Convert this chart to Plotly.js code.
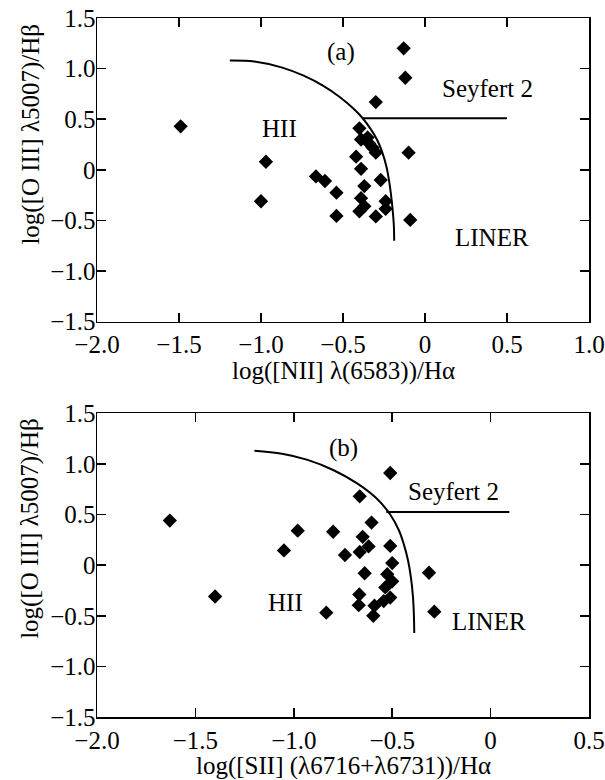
<!DOCTYPE html>
<html>
<head>
<meta charset="utf-8">
<script src="https://cdn.plot.ly/plotly-3.0.1.min.js"></script>
<style>html,body{margin:0;padding:0;background:#fff;}#chart{width:605px;height:780px;}</style>
</head>
<body>
<div id="chart"></div>
<script>
// Panel (a): log([NII]/Hα) vs log([OIII]/Hβ)
const niiX = [-0.13, -0.12, -0.30, -1.49, -0.40, -0.39, -0.35, -0.34, -0.32, -0.30, -0.10, -0.97, -0.42, -0.39,
              -0.665, -0.61, -0.54, -1.00, -0.27, -0.37, -0.39, -0.24, -0.37, -0.40, -0.24, -0.54, -0.30, -0.09];
const niiY = [1.20, 0.91, 0.67, 0.43, 0.41, 0.30, 0.32, 0.26, 0.22, 0.17, 0.17, 0.08, 0.13, 0.01,
              -0.065, -0.11, -0.225, -0.31, -0.10, -0.16, -0.28, -0.31, -0.36, -0.41, -0.385, -0.455, -0.46, -0.495];
const curveAX = [-1.19, -1.04, -0.87, -0.74, -0.62, -0.52, -0.44, -0.38, -0.33, -0.29, -0.26, -0.235, -0.215, -0.20, -0.19, -0.188];
const curveAY = [1.08, 1.07, 1.01, 0.93, 0.83, 0.72, 0.61, 0.51, 0.40, 0.29, 0.17, 0.03, -0.15, -0.35, -0.55, -0.70];
const lineAX = [-0.38, 0.50];
const lineAY = [0.51, 0.51];

// Panel (b): log([SII]/Hα) vs log([OIII]/Hβ)
const siiX = [-1.63, -0.51, -0.665, -0.605, -0.98, -0.80, -0.65, -1.05, -0.62, -0.74, -0.665, -0.51, -0.50, -1.40,
              -0.64, -0.525, -0.50, -0.535, -0.51, -0.543, -0.667, -0.67, -0.59, -0.596, -0.835, -0.313, -0.286];
const siiY = [0.44, 0.91, 0.68, 0.42, 0.34, 0.33, 0.28, 0.145, 0.185, 0.10, 0.13, 0.19, 0.02, -0.31,
              -0.08, -0.09, -0.16, -0.22, -0.32, -0.355, -0.29, -0.395, -0.40, -0.50, -0.47, -0.075, -0.46];
const curveBX = [-1.20, -1.06, -0.93, -0.80, -0.68, -0.58, -0.51, -0.465, -0.44, -0.42, -0.405, -0.395, -0.39, -0.388];
const curveBY = [1.13, 1.10, 1.04, 0.94, 0.81, 0.66, 0.50, 0.34, 0.20, 0.05, -0.12, -0.30, -0.48, -0.67];
const lineBX = [-0.53, 0.095];
const lineBY = [0.525, 0.525];

// Ticks
const yTickVals = [-1.5, -1.0, -0.5, 0, 0.5, 1.0, 1.5];
const yTickText = ['−1.5', '−1.0', '−0.5', '0', '0.5', '1.0', '1.5'];
const xaTickVals = [-2.0, -1.5, -1.0, -0.5, 0, 0.5, 1.0];
const xaTickText = ['−2.0', '−1.5', '−1.0', '−0.5', '0', '0.5', '1.0'];
const xbTickVals = [-2.0, -1.5, -1.0, -0.5, 0, 0.5];
const xbTickText = ['−2.0', '−1.5', '−1.0', '−0.5', '0', '0.5'];

// Labels
const yTitle = 'log([O III] λ5007)/Hβ';
const xaTitle = 'log([NII] λ(6583))/Hα';
const xbTitle = 'log([SII] (λ6716+λ6731))/Hα';

const FONT = 'Liberation Serif, Times New Roman, serif';
const FS = 25;

const marker = {symbol: 'diamond', size: 11, color: '#000'};
const lineStyle = {color: '#000', width: 2};

const traces = [
  {x: curveAX, y: curveAY, mode: 'lines', line: Object.assign({shape: 'spline', smoothing: 1}, lineStyle), xaxis: 'x', yaxis: 'y', hoverinfo: 'skip'},
  {x: lineAX, y: lineAY, mode: 'lines', line: lineStyle, xaxis: 'x', yaxis: 'y', hoverinfo: 'skip'},
  {x: niiX, y: niiY, mode: 'markers', marker: marker, xaxis: 'x', yaxis: 'y'},
  {x: curveBX, y: curveBY, mode: 'lines', line: Object.assign({shape: 'spline', smoothing: 1}, lineStyle), xaxis: 'x2', yaxis: 'y2', hoverinfo: 'skip'},
  {x: lineBX, y: lineBY, mode: 'lines', line: lineStyle, xaxis: 'x2', yaxis: 'y2', hoverinfo: 'skip'},
  {x: siiX, y: siiY, mode: 'markers', marker: marker, xaxis: 'x2', yaxis: 'y2'}
];

function ax(extra) {
  return Object.assign({
    showgrid: false, zeroline: false, showline: true, linecolor: '#000', linewidth: 1.5,
    mirror: 'allticks', ticks: 'inside', ticklen: 9, tickwidth: 1.5, tickcolor: '#000',
    tickfont: {family: FONT, size: FS, color: '#000'}, tickmode: 'array', fixedrange: true
  }, extra);
}

const layout = {
  width: 605, height: 780,
  margin: {l: 97, r: 16, t: 18, b: 63},
  paper_bgcolor: '#fff', plot_bgcolor: '#fff',
  showlegend: false,
  font: {family: FONT, size: FS, color: '#000'},
  xaxis: ax({domain: [0, 1], anchor: 'y', range: [-2, 1], tickvals: xaTickVals, ticktext: xaTickText, ticklabelstandoff: 0}),
  yaxis: ax({domain: [0.5655, 1], anchor: 'x', range: [-1.5, 1.5], tickvals: yTickVals, ticktext: yTickText, ticklabelstandoff: -5}),
  xaxis2: ax({domain: [0, 1], anchor: 'y2', range: [-2, 0.5], tickvals: xbTickVals, ticktext: xbTickText, ticklabelstandoff: 0}),
  yaxis2: ax({domain: [0, 0.4345], anchor: 'x2', range: [-1.5, 1.5], tickvals: yTickVals, ticktext: yTickText, ticklabelstandoff: -5}),
  annotations: [
    {text: '(a)', x: -0.51, y: 1.16, xref: 'x', yref: 'y', showarrow: false},
    {text: 'Seyfert 2', x: 0.38, y: 0.80, xref: 'x', yref: 'y', showarrow: false},
    {text: 'HII', x: -0.885, y: 0.41, xref: 'x', yref: 'y', showarrow: false},
    {text: 'LINER', x: 0.41, y: -0.67, xref: 'x', yref: 'y', showarrow: false},
    {text: '(b)', x: -0.75, y: 1.16, xref: 'x2', yref: 'y2', showarrow: false},
    {text: 'Seyfert 2', x: -0.19, y: 0.73, xref: 'x2', yref: 'y2', showarrow: false},
    {text: 'HII', x: -1.04, y: -0.365, xref: 'x2', yref: 'y2', showarrow: false},
    {text: 'LINER', x: -0.01, y: -0.555, xref: 'x2', yref: 'y2', showarrow: false},
    {text: xaTitle, x: 0.5, y: 0.4954, xref: 'paper', yref: 'paper', xanchor: 'center', yanchor: 'middle', showarrow: false},
    {text: xbTitle, x: 0.5, y: -0.0697, xref: 'paper', yref: 'paper', xanchor: 'center', yanchor: 'middle', showarrow: false},
    {text: yTitle, x: -0.135, y: 0.834, xref: 'paper', yref: 'paper', xanchor: 'center', yanchor: 'middle', textangle: -90, showarrow: false},
    {text: yTitle, x: -0.135, y: 0.270, xref: 'paper', yref: 'paper', xanchor: 'center', yanchor: 'middle', textangle: -90, showarrow: false}
  ]
};

Plotly.newPlot('chart', traces, layout, {staticPlot: true, displayModeBar: false});
</script>
</body>
</html>
